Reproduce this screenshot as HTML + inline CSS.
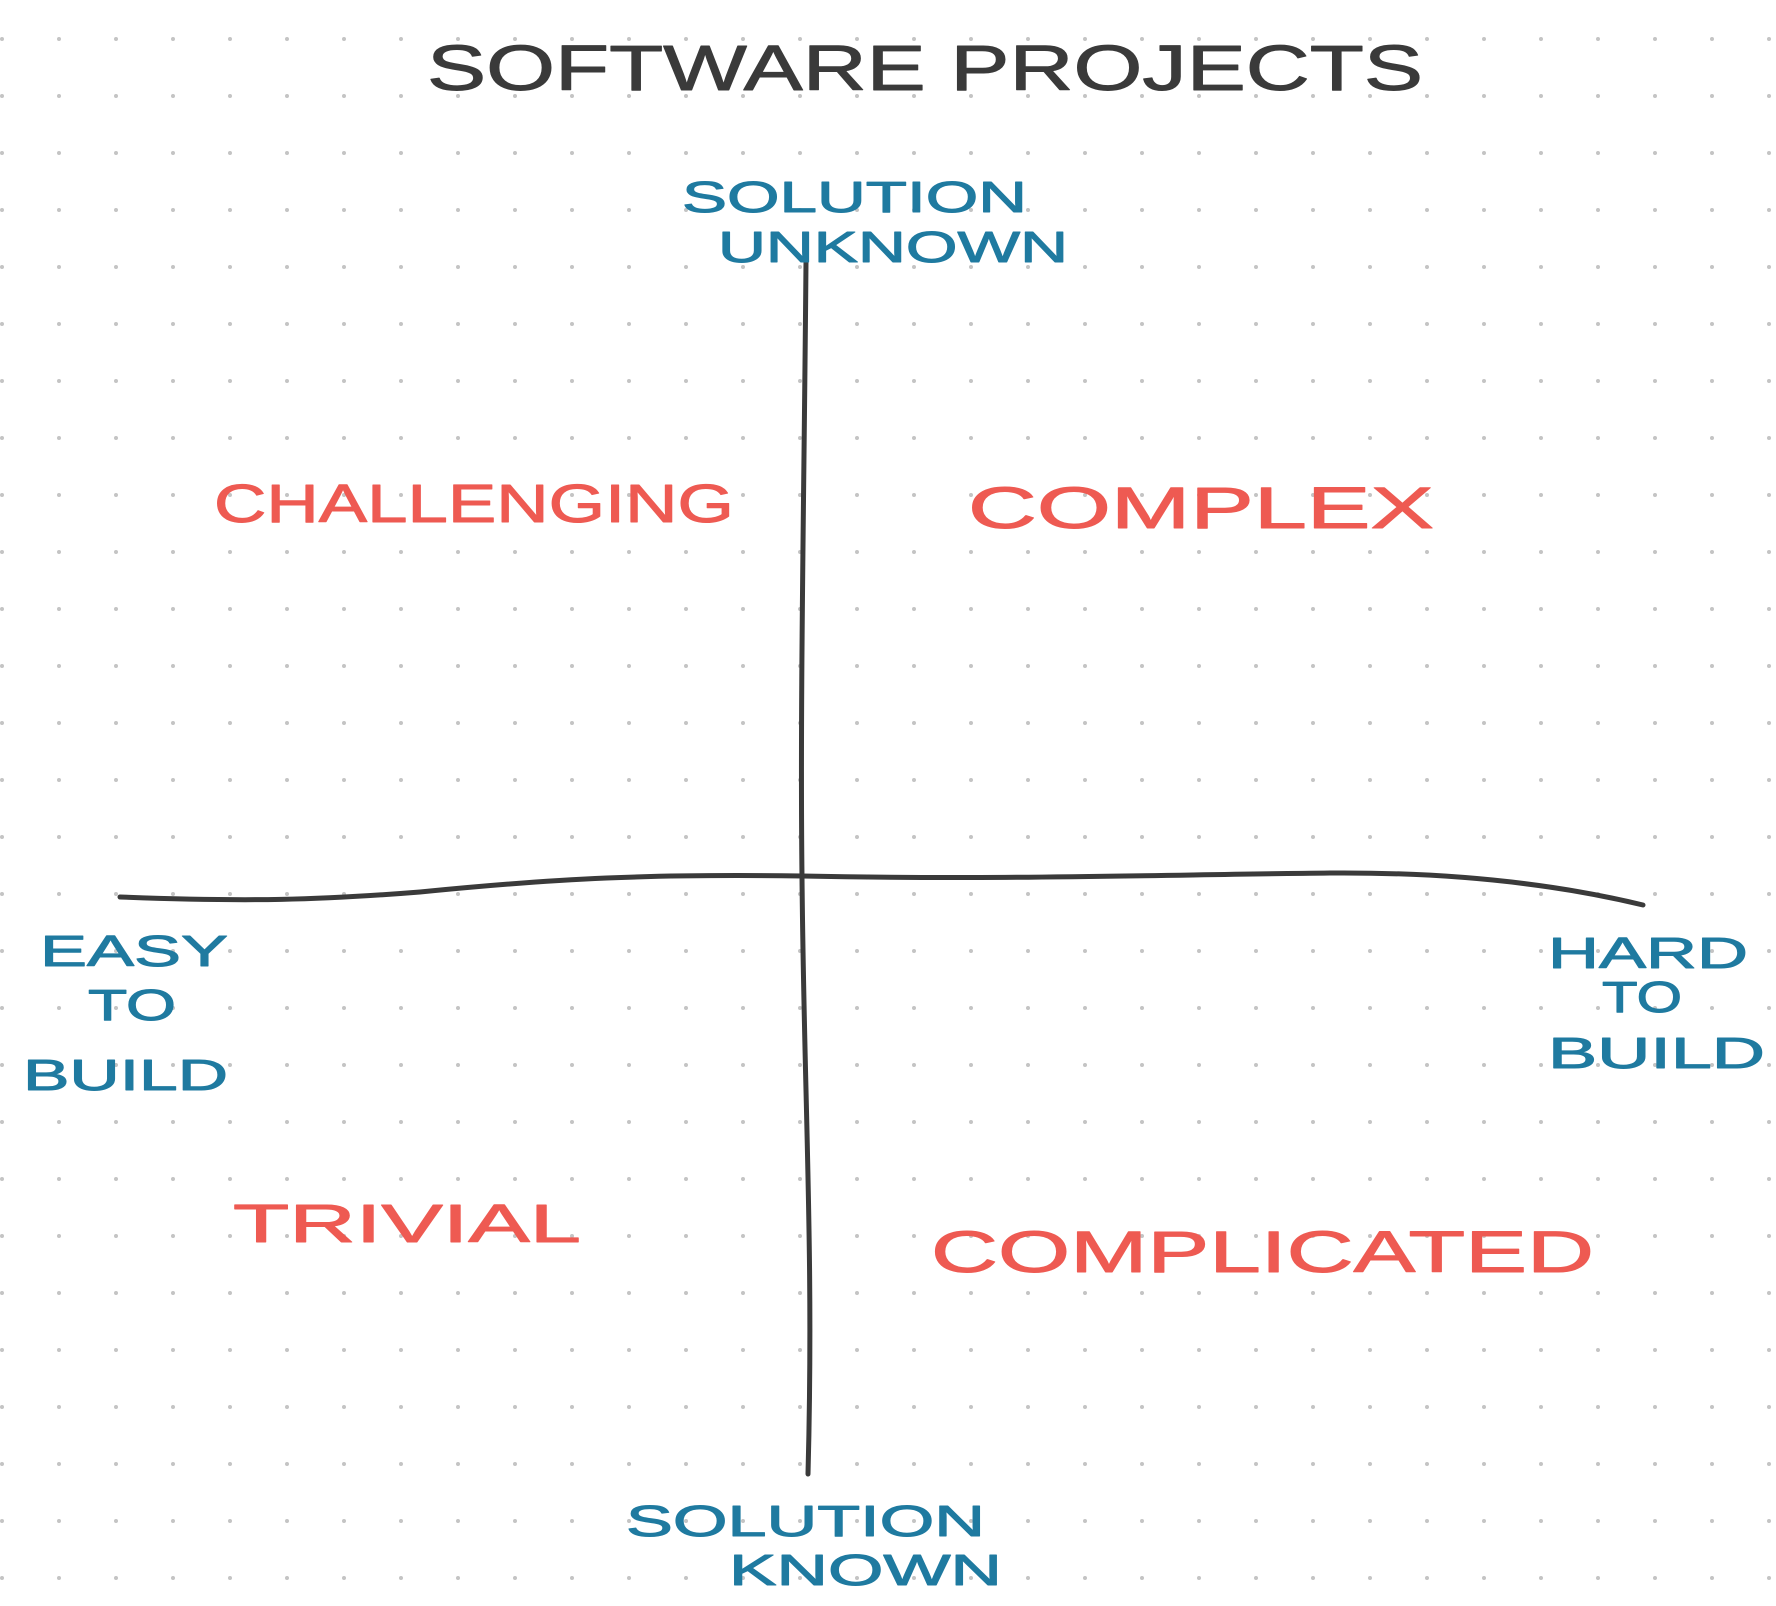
<!DOCTYPE html>
<html><head><meta charset="utf-8"><style>
html,body{margin:0;padding:0;background:#fff}
svg{display:block}
text{font-family:"Liberation Sans",sans-serif;text-anchor:start;stroke-linejoin:round}
.b{fill:#1f7aa0;stroke:#1f7aa0;stroke-width:1;font-size:44px}
.r{fill:#ee5a52;stroke:#ee5a52;stroke-width:1;font-size:54px}
</style></head><body>
<svg width="1776" height="1606" viewBox="0 0 1776 1606" xmlns="http://www.w3.org/2000/svg">
<defs><pattern id="d" x="0" y="0" width="57" height="57" patternUnits="userSpaceOnUse"><circle cx="2" cy="39" r="2" fill="#c4c4c4"/></pattern></defs>
<rect width="1776" height="1606" fill="#fff"/>
<rect width="1776" height="1606" fill="url(#d)"/>
<text x="427" y="90" textLength="996" lengthAdjust="spacingAndGlyphs" style="font-size:64px;fill:#3a3a3a;stroke:#3a3a3a;stroke-width:1">SOFTWARE PROJECTS</text>
<path d="M806 262 C804 500 800 700 802 877 C804 1100 814 1250 808 1474" stroke="#3a3a3a" stroke-width="5" fill="none" stroke-linecap="round"/>
<path d="M120 897 C250 902 320 900 420 892 C560 878 650 874 802 876 C1000 880 1150 875 1330 873 C1460 872 1560 885 1643 905" stroke="#3a3a3a" stroke-width="5" fill="none" stroke-linecap="round"/>
<text class="b" x="682" y="212" textLength="345" lengthAdjust="spacingAndGlyphs">SOLUTION</text>
<text class="b" x="718" y="262" textLength="350" lengthAdjust="spacingAndGlyphs">UNKNOWN</text>
<text class="r" x="214" y="522" textLength="520" lengthAdjust="spacingAndGlyphs">CHALLENGING</text>
<text class="r" x="968" y="528" textLength="466" lengthAdjust="spacingAndGlyphs" style="font-size:58px">COMPLEX</text>
<text class="b" x="40" y="966" textLength="188" lengthAdjust="spacingAndGlyphs">EASY</text>
<text class="b" x="88" y="1020" textLength="88" lengthAdjust="spacingAndGlyphs">TO</text>
<text class="b" x="23" y="1090" textLength="205" lengthAdjust="spacingAndGlyphs">BUILD</text>
<text class="b" x="1548" y="968" textLength="200" lengthAdjust="spacingAndGlyphs">HARD</text>
<text class="b" x="1602" y="1012" textLength="80" lengthAdjust="spacingAndGlyphs">TO</text>
<text class="b" x="1548" y="1068" textLength="217" lengthAdjust="spacingAndGlyphs">BUILD</text>
<text class="r" x="233" y="1242" textLength="348" lengthAdjust="spacingAndGlyphs">TRIVIAL</text>
<text class="r" x="931" y="1272" textLength="663" lengthAdjust="spacingAndGlyphs" style="font-size:58px">COMPLICATED</text>
<text class="b" x="626" y="1536" textLength="359" lengthAdjust="spacingAndGlyphs">SOLUTION</text>
<text class="b" x="729" y="1585" textLength="273" lengthAdjust="spacingAndGlyphs">KNOWN</text>
</svg>
</body></html>
